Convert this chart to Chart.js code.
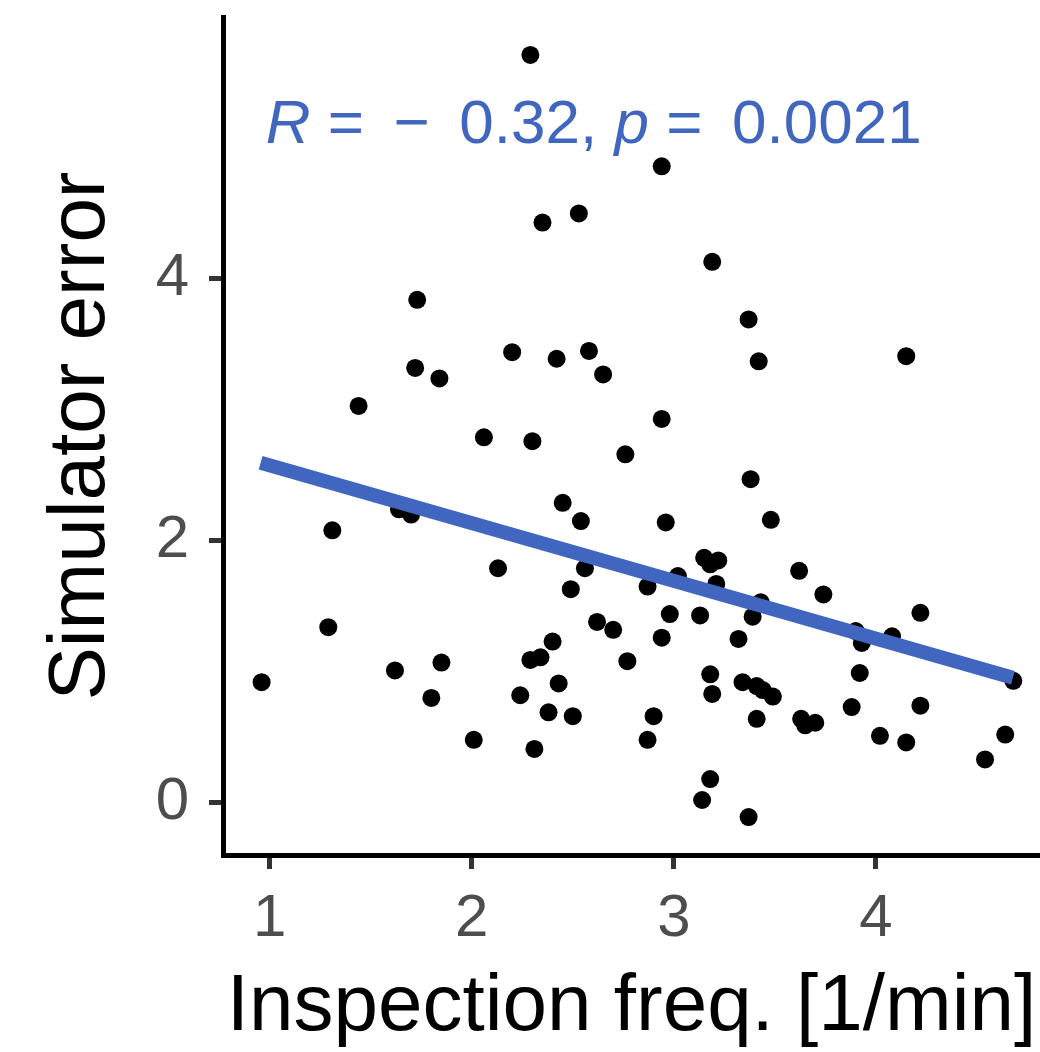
<!DOCTYPE html>
<html>
<head>
<meta charset="utf-8">
<script src="https://cdn.jsdelivr.net/npm/chart.js@4.4.1/dist/chart.umd.min.js"></script>
<style>
  html, body { margin: 0; padding: 0; background: #fff; }
  #wrap { width: 1040px; height: 1052px; }
</style>
</head>
<body>
<div id="wrap"><canvas id="chart" width="1040" height="1052"></canvas></div>
<script>
// ── DATA ──
const inspectionFreq = [
  2.29, 2.94, 2.53, 2.35, 3.19, 3.37, 1.73, 4.15, 3.42, 1.72,
  2.20, 2.42, 2.58, 2.65, 1.84, 1.44, 2.94, 2.06, 2.30, 2.76,
  3.38, 2.45, 1.31, 1.64, 1.70, 2.54, 2.96, 3.48, 2.13, 2.56,
  3.15, 3.18, 3.22, 3.02, 3.21, 3.62, 3.74, 2.87, 2.49, 2.98,
  3.13, 3.43, 3.39, 4.22, 2.62, 2.70, 1.29, 2.94, 2.40, 3.32,
  3.90, 4.08, 3.93, 2.29, 2.34, 2.77, 1.85, 1.62, 3.92, 3.18,
  0.96, 2.43, 3.34, 3.41, 3.44, 3.49, 3.19, 4.68, 1.80, 2.24,
  2.38, 2.50, 2.90, 3.41, 3.63, 3.65, 3.70, 3.88, 4.22, 4.02,
  4.15, 4.64, 4.54, 2.01, 2.87, 2.31, 3.18, 3.14, 3.37
];
const simulatorError = [
  5.71, 4.86, 4.50, 4.43, 4.13, 3.69, 3.84, 3.41, 3.37, 3.32,
  3.44, 3.39, 3.45, 3.27, 3.24, 3.03, 2.93, 2.79, 2.76, 2.66,
  2.47, 2.29, 2.08, 2.24, 2.20, 2.15, 2.14, 2.16, 1.79, 1.79,
  1.87, 1.82, 1.85, 1.73, 1.67, 1.77, 1.59, 1.65, 1.63, 1.44,
  1.43, 1.53, 1.42, 1.45, 1.38, 1.32, 1.34, 1.26, 1.23, 1.25,
  1.31, 1.27, 1.22, 1.09, 1.11, 1.08, 1.07, 1.01, 0.99, 0.98,
  0.92, 0.91, 0.92, 0.89, 0.86, 0.81, 0.83, 0.93, 0.80, 0.82,
  0.69, 0.66, 0.66, 0.64, 0.64, 0.59, 0.61, 0.73, 0.74, 0.51,
  0.46, 0.52, 0.33, 0.48, 0.48, 0.41, 0.18, 0.02, -0.11
];

// regression line end points
const fitX = [0.955, 4.678];
const fitY = [2.595, 0.954];

const xTicks = [1, 2, 3, 4];
const yTicks = [0, 2, 4];

const corrLabel = [
  { text: 'R', italic: true },
  { text: ' = \u2009\u2212\u2009 0.32, ', italic: false },
  { text: 'p', italic: true },
  { text: ' =\u2009 0.0021', italic: false }
];

const blue = '#4066c0';
const tickGrey = '#4d4d4d';
const FONT = "'Liberation Sans', Arial, sans-serif";

// ── ANNOTATION PLUGIN ──
const corrTextPlugin = {
  id: 'corrText',
  afterDraw(chart) {
    const { ctx, scales } = chart;
    let x = scales.x.getPixelForValue(0.98);
    const y = scales.y.getPixelForValue(5.04);
    ctx.save();
    ctx.fillStyle = blue;
    ctx.textBaseline = 'alphabetic';
    ctx.textAlign = 'left';
    corrLabel.forEach(seg => {
      ctx.font = (seg.italic ? 'italic ' : '') + '62px ' + FONT;
      ctx.fillText(seg.text, x, y);
      x += ctx.measureText(seg.text).width;
    });
    ctx.restore();
  }
};

// no edge padding for tick labels, the plot area is fixed
function noPad(s) {
  s.paddingTop = 0; s.paddingBottom = 0;
  s.paddingLeft = 0; s.paddingRight = 0;
}

const points = inspectionFreq.map((v, i) => ({ x: v, y: simulatorError[i] }));
const fitLine = fitX.map((v, i) => ({ x: v, y: fitY[i] }));

new Chart(document.getElementById('chart'), {
  type: 'scatter',
  data: {
    datasets: [
      {
        type: 'line',
        data: fitLine,
        borderColor: blue,
        borderWidth: 14,
        borderCapStyle: 'butt',
        pointRadius: 0,
        fill: false
      },
      {
        data: points,
        backgroundColor: '#000',
        borderWidth: 0,
        pointRadius: 9
      }
    ]
  },
  options: {
    responsive: false,
    animation: false,
    events: [],
    layout: { autoPadding: false, padding: { top: 17, right: 0, left: 0, bottom: 0 } },
    plugins: {
      legend: { display: false },
      tooltip: { enabled: false }
    },
    scales: {
      x: {
        type: 'linear',
        min: 0.769,
        max: 4.812,
        afterBuildTicks: (s) => { s.ticks = xTicks.map(v => ({ value: v })); },
        afterFit: (s) => { s.height = 197; noPad(s); },
        border: { display: true, color: '#000', width: 5 },
        grid: { drawOnChartArea: false, drawTicks: true, tickLength: 14, tickWidth: 5, tickColor: '#333' },
        ticks: { color: tickGrey, padding: 14, font: { family: FONT, size: 60 } },
        title: {
          display: true,
          text: 'Inspection freq. [1/min]',
          color: '#000',
          font: { family: FONT, size: 80, lineHeight: 1 },
          padding: { top: 0, bottom: 4 }
        }
      },
      y: {
        type: 'linear',
        min: -0.40,
        max: 6.0,
        afterBuildTicks: (s) => { s.ticks = yTicks.map(v => ({ value: v })); },
        afterFit: (s) => { s.width = 223; noPad(s); },
        border: { display: true, color: '#000', width: 5 },
        grid: { drawOnChartArea: false, drawTicks: true, tickLength: 14, tickWidth: 5, tickColor: '#333' },
        ticks: { color: tickGrey, padding: 20, font: { family: FONT, size: 60 } },
        title: {
          display: true,
          text: 'Simulator error',
          color: '#000',
          font: { family: FONT, size: 80, lineHeight: 1 },
          padding: { top: 42, bottom: 0 }
        }
      }
    }
  },
  plugins: [corrTextPlugin]
});
</script>
</body>
</html>
